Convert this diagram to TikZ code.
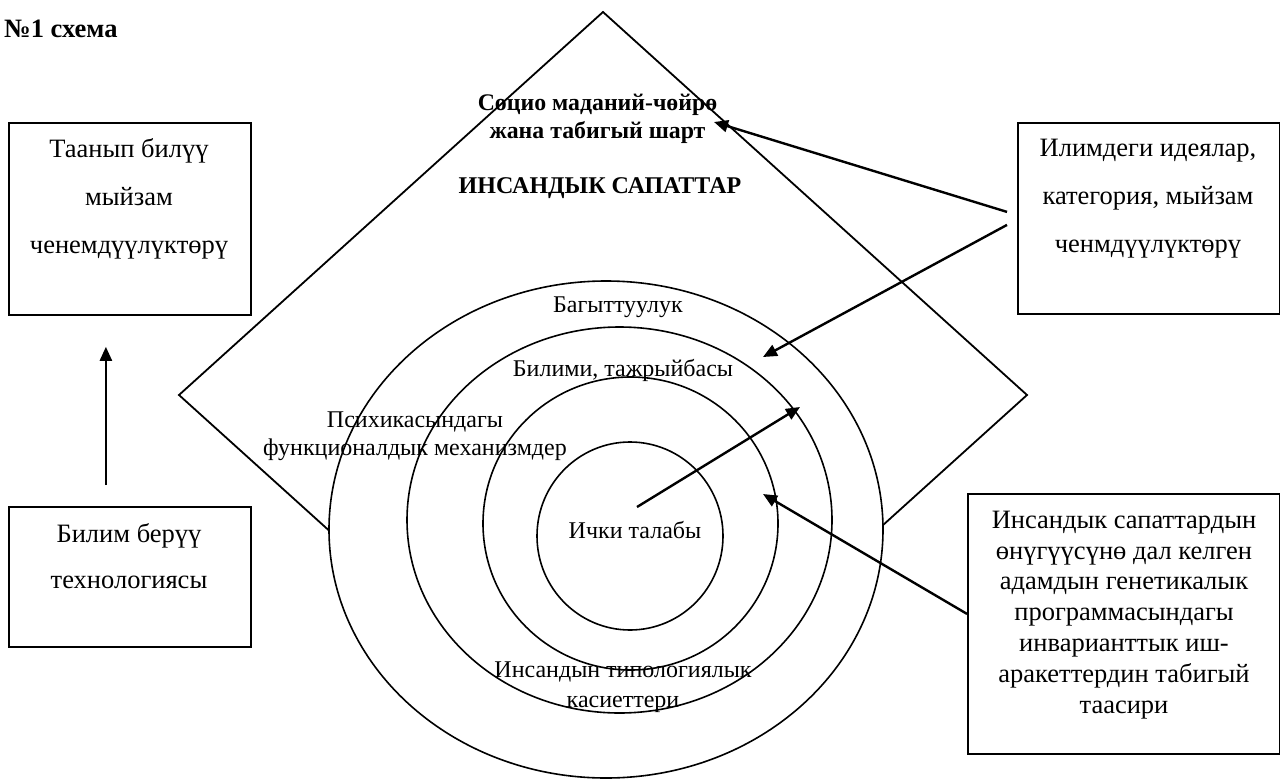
\documentclass[tikz,border=0pt]{standalone}
\usepackage{fontspec}
\setmainfont{Liberation Serif}
\usetikzlibrary{arrows.meta,shapes.geometric}
\tikzset{
  boxs/.style={draw, line width=1.8pt, inner sep=0pt, anchor=north west},
  ring/.style={draw, ellipse, line width=1.6pt, fill=white, inner sep=0pt},
  arr/.style={-{Triangle[length=14pt,width=12pt]}, line width=2.4pt},
  lbl/.style={inner sep=0pt, align=center, anchor=base},
  boxtxt/.style={lbl, font=\fontsize{26.5}{48}\selectfont},
  ringtxt/.style={lbl, font=\fontsize{24}{28}\selectfont},
}
\begin{document}
\begin{tikzpicture}[x=1pt,y=-1pt]
\fill[white] (0,0) rectangle (1280,779);
\useasboundingbox (0,0) rectangle (1280,779);

% title
\node[inner sep=0pt, anchor=base west, font=\fontsize{26.5}{30}\selectfont\bfseries] (title) at (4,37) {№1 схема};

% diamond
\draw[line width=1.8pt, line join=miter] (391,586.5) -- (179,395) -- (603,12) -- (1027,395) -- (815,586.5);

% rings
\node[ring, minimum width=554pt, minimum height=497pt] (e1) at (606,529.5) {};
\node[ring, minimum width=425pt, minimum height=386pt] (e2) at (619.5,520) {};
\node[ring, minimum width=295pt, minimum height=293pt] (e3) at (630.5,523.5) {};
\node[ring, minimum width=186pt, minimum height=188pt] (e4) at (630,536) {};

% diamond texts (anchor base = last line baseline)
\node[lbl, font=\fontsize{23.8}{28}\selectfont\bfseries] (soc) at (597.5,138) {Социо маданий-чөйрө\\жана табигый шарт};
\node[lbl, font=\fontsize{24}{28}\selectfont\bfseries] (ins) at (600,193) {ИНСАНДЫК САПАТТАР};

% ring texts
\node[ringtxt] (bag) at (618,312) {Багыттуулук};
\node[ringtxt] (bil) at (623,376) {Билими, тажрыйбасы};
\node[ringtxt] (psy) at (415,455) {Психикасындагы\\функционалдык механизмдер};
\node[ringtxt] (ich) at (635,538) {Ички талабы};
\node[ringtxt, font=\fontsize{24}{30}\selectfont] (typ) at (623,707) {Инсандын типологиялык\\касиеттери};

% boxes
\node[boxs, minimum width=242pt, minimum height=192pt] (b1) at (8,122) {};
\node[boxs, minimum width=262pt, minimum height=191pt] (b2) at (1017,122) {};
\node[boxs, minimum width=242pt, minimum height=140pt] (b3) at (8,506) {};
\node[boxs, minimum width=312pt, minimum height=260pt] (b4) at (967,493) {};

\node[boxtxt] (t1) at (129,253) {Таанып билүү\\мыйзам\\ченемдүүлүктөрү};
\node[boxtxt] (t2) at (1148,252) {Илимдеги идеялар,\\категория, мыйзам\\ченмдүүлүктөрү};
\node[boxtxt, font=\fontsize{26.5}{46}\selectfont] (t3) at (129,588) {Билим берүү\\технологиясы};
\node[boxtxt, font=\fontsize{26.5}{30.8}\selectfont] (t4) at (1124,713) {Инсандык сапаттардын\\өнүгүүсүнө дал келген\\адамдын генетикалык\\программасындагы\\инварианттык иш-\\аракеттердин табигый\\таасири};

% arrow end points
\coordinate (p1) at (714,122);
\coordinate (p2) at (763,357);
\coordinate (p3) at (800,407);
\coordinate (p4) at (763,494);

% arrows
\draw[arr] ([xshift=-10pt,yshift=6.5pt]b2.west) -- (p1);
\draw[arr] ([xshift=-10pt,yshift=-6.5pt]b2.west) -- (p2);
\draw[arr] ([xshift=7pt,yshift=29pt]e4.center) -- (p3);
\draw[arr] ([yshift=10pt]b4.west) -- (p4);
\draw[arr] ([xshift=-24pt,yshift=21pt]b3.north) -- ([xshift=-24pt,yshift=-31pt]b1.south);
\end{tikzpicture}
\end{document}
